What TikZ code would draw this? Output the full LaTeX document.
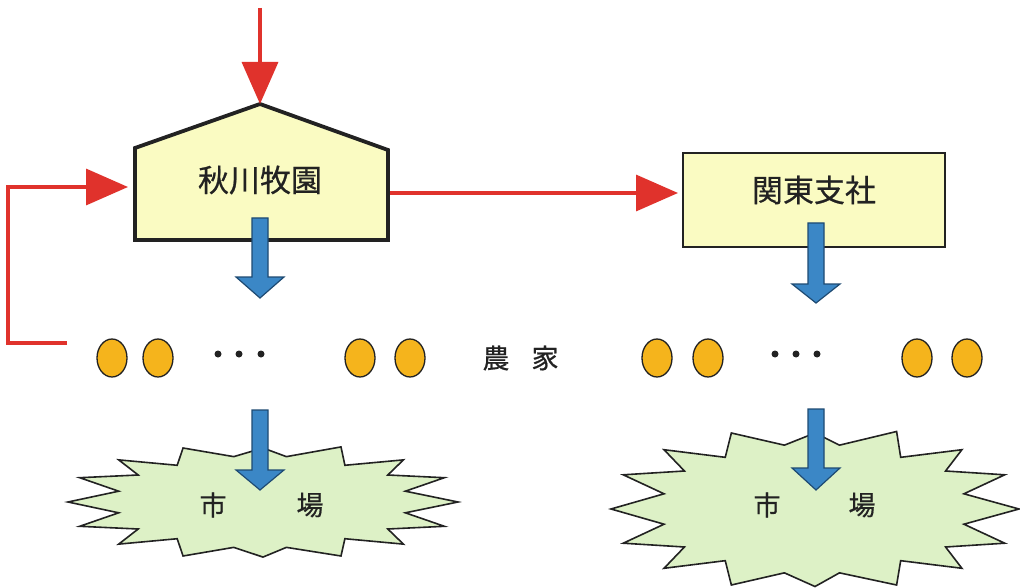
\documentclass[tikz,border=0pt]{standalone}
\usepackage{fontspec}
\newfontfamily\cjk[FakeBold=0.6]{Noto Sans CJK JP}
\usetikzlibrary{arrows.meta,calc,shapes.geometric}
\definecolor{redline}{HTML}{E0322C}
\definecolor{housefill}{HTML}{FAFBC2}
\definecolor{burstfill}{HTML}{DDF1C6}
\definecolor{bluefill}{HTML}{3B87C6}
\definecolor{blueedge}{HTML}{1E4A72}
\definecolor{farmfill}{HTML}{F5B41C}
\definecolor{inkc}{HTML}{222222}
\newcommand\blockarr[4]{\draw[bluearr] ({#1-8},#2) -- ({#1+8},#2) -- ({#1+8},#3) -- ({#1+24},#3) -- (#1,#4) -- ({#1-24},#3) -- ({#1-8},#3) -- cycle;}
\newcommand\burstshape{(-1,0) -- (-0.74,-0.2) -- (-0.94,-0.45) -- (-0.64,-0.5) -- (-0.74,-0.78) -- (-0.44,-0.68) -- (-0.41,-1) -- (-0.15,-0.84) -- (0,-1) -- (0.12,-0.84) -- (0.4,-1.02) -- (0.42,-0.68) -- (0.72,-0.78) -- (0.64,-0.5) -- (0.93,-0.45) -- (0.73,-0.2) -- (1,0) -- (0.73,0.2) -- (0.93,0.45) -- (0.64,0.5) -- (0.72,0.78) -- (0.42,0.68) -- (0.4,1) -- (0.12,0.84) -- (0,1.02) -- (-0.15,0.84) -- (-0.41,1) -- (-0.44,0.68) -- (-0.74,0.78) -- (-0.64,0.5) -- (-0.94,0.45) -- (-0.74,0.2) -- cycle}
\begin{document}
\begin{tikzpicture}[x=1pt,y=-1pt,
  redarr/.style={draw=redline,line width=3.4pt,-{Triangle[length=42pt,width=36pt]},color=redline},
  bluearr/.style={fill=bluefill,draw=blueedge,line width=1.2pt,line join=miter},
  housebox/.style={fill=housefill,draw=inkc,line width=3.8pt,line join=miter},
  kantobox/.style={rectangle,fill=housefill,draw=inkc,line width=2.8pt,minimum width=262pt,minimum height=94pt,inner sep=0pt},
  boxlabel/.style={font=\cjk\fontsize{31}{31}\selectfont,text=inkc,inner sep=0pt},
  farmer/.style={ellipse,fill=farmfill,draw=inkc,line width=1.3pt,minimum width=30pt,minimum height=38pt,inner sep=0pt},
  smalldot/.style={circle,fill=inkc,minimum size=7pt,inner sep=0pt},
  burst/.style={fill=burstfill,draw=inkc,line width=1.6pt,line join=miter},
  midlabel/.style={font=\cjk\fontsize{27}{27}\selectfont,text=inkc,inner sep=0pt}]
\useasboundingbox (0,0) rectangle (1020,588);
\fill[white] (0,0) rectangle (1020,588);

% house (秋川牧園)
\coordinate (hsw) at (135,240);
\coordinate (hnw) at (135,148);
\coordinate (peak) at (260,104);
\coordinate (hne) at (388,150);
\coordinate (hse) at (388,240);
\draw[housebox] (hsw) -- (hnw) -- (peak) -- (hne) -- (hse) -- cycle;
\node[boxlabel] (house) at (260,180) {秋川牧園};

% kanto box
\node[kantobox] (kanto) at (814,200) {};
\node[boxlabel] (kantotext) at (814,190) {関東支社};

% red connectors
\coordinate (topin) at (260,8);
\draw[redarr] (topin) -- (peak);
\coordinate (fbstart) at (67,343);
\coordinate (fbin) at (128,187);
\coordinate (fbcorner) at (8,187);
\draw[redarr] (fbstart) -| (fbcorner) -- (fbin);
\coordinate (hright) at (390,193);
\coordinate (kin) at (678,193);
\draw[redarr] (hright) -- (kin);

% blue arrows from producers
\blockarr{260}{218}{277}{298}
\blockarr{816}{223}{284}{303}

% farmers
\node[farmer] (f1) at (112,358) {};
\node[farmer] (f2) at (158,358) {};
\node[smalldot] (d1) at (218,354) {};
\node[smalldot] (d2) at (239,354) {};
\node[smalldot] (d3) at (261,354) {};
\node[farmer] (f3) at (360,358) {};
\node[farmer] (f4) at (410,358) {};
\node[midlabel] (nou) at (496,358) {農};
\node[midlabel] (ka) at (545,358) {家};
\node[farmer] (f5) at (657,358) {};
\node[farmer] (f6) at (708,358) {};
\node[smalldot] (d4) at (775,354) {};
\node[smalldot] (d5) at (796,354) {};
\node[smalldot] (d6) at (817,354) {};
\node[farmer] (f7) at (917,358) {};
\node[farmer] (f8) at (967,358) {};

% markets
\begin{scope}[shift={(263,502)},xscale=195,yscale=54]
\draw[burst] \burstshape;
\end{scope}
\begin{scope}[shift={(815,509)},xscale=204,yscale=76]
\draw[burst] \burstshape;
\end{scope}
\blockarr{260}{410}{470}{490}
\blockarr{816}{409}{468}{490}
\node[midlabel] (ichi1) at (213,505) {市};
\node[midlabel] (ba1) at (310,505) {場};
\node[midlabel] (ichi2) at (767,505) {市};
\node[midlabel] (ba2) at (862,505) {場};
\end{tikzpicture}
\end{document}
